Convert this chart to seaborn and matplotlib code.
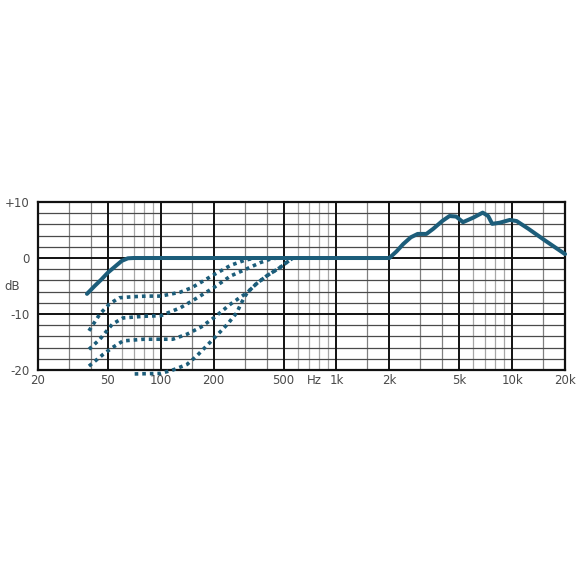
import matplotlib
matplotlib.use("Agg")
import matplotlib.pyplot as plt
import seaborn as sns
import pandas as pd

# ---- data ----
solid_f = [38, 42, 46, 50, 55, 60, 65, 70, 100, 1000, 2000, 2200, 2400, 2650, 2900, 3250,
           3550, 4000, 4400, 4800, 5250, 6000, 6800, 7300, 7700, 8500, 9700, 10600, 12400,
           15600, 20000]
solid_db = [-6.4, -5.0, -3.8, -2.6, -1.5, -0.5, -0.05, 0, 0, 0, 0, 1.2, 2.5, 3.7, 4.3, 4.3,
            5.2, 6.6, 7.5, 7.4, 6.4, 7.2, 8.1, 7.5, 6.1, 6.3, 6.8, 6.6, 5.2, 3.0, 0.7]

a_f = [39, 45, 51, 58, 70, 83, 100, 129, 150, 200, 250, 300, 345]
a_db = [-13.0, -10.0, -8.2, -7.1, -6.9, -6.8, -6.8, -6.1, -5.3, -3.0, -1.3, -0.4, 0]

b_f = [39, 45, 53, 61, 80, 100, 129, 150, 200, 250, 310, 370, 420, 460]
b_db = [-16.3, -14.5, -11.8, -10.7, -10.4, -10.3, -8.9, -7.7, -5.3, -3.2, -1.9, -0.8, -0.2, 0]

c_f = [39, 47, 53, 61, 80, 100, 117, 141, 170, 200, 250, 290, 310, 350, 400, 477, 520, 565]
c_db = [-19.3, -17.2, -16.0, -14.8, -14.5, -14.5, -14.5, -13.6, -12.3, -10.7, -8.2, -6.8,
        -6.2, -4.6, -3.2, -1.7, -0.8, 0]

d_f = [71, 100, 117, 141, 160, 200, 240, 270, 290, 310, 350, 400, 477, 520, 565]
d_db = [-20.7, -20.6, -20.0, -19.0, -17.5, -14.4, -11.8, -9.8, -7.8, -6.2, -4.6, -3.2,
        -1.7, -0.8, 0]

x_ticks = [20, 50, 100, 200, 500, 750, 1000, 2000, 5000, 10000, 20000]
x_labels = ["20", "50", "100", "200", "500", "Hz", "1k", "2k", "5k", "10k", "20k"]
y_ticks = [10, 0, -10, -20]
y_labels = ["+10", "0", "-10", "-20"]

major_f = [50, 100, 200, 500, 1000, 2000, 5000, 10000]
mid_f = [30, 40, 150, 300, 400, 1500, 3000, 4000, 15000]
light_f = [60, 70, 80, 90, 600, 700, 800, 900, 6000, 7000, 8000, 9000]
minor_db = [8, 6, 4, 2, -2, -4, -6, -8, -12, -14, -16, -18]
major_db = [10, 0, -10, -20]

# ---- figure ----
sns.set_style("white")
plt.rcParams["font.family"] = ["DejaVu Sans"]
fig = plt.figure(figsize=(5.84, 5.84), dpi=100)
ax = fig.add_axes([0.0651, 0.3664, 0.9024, 0.2877])
ax.set_xscale("log")
ax.set_xlim(20, 20000)
ax.set_ylim(-20, 10)

# grid
for f in light_f:
    ax.axvline(f, color="#a8a8a8", lw=0.9, zorder=1)
for f in mid_f:
    ax.axvline(f, color="#808080", lw=0.9, zorder=1)
for d in minor_db:
    ax.axhline(d, color="#4a4a4a", lw=0.9, zorder=1)
for f in major_f:
    ax.axvline(f, color="#111111", lw=1.4, zorder=2)
for d in major_db:
    ax.axhline(d, color="#111111", lw=1.4, zorder=2)

col = "#1c5d7a"
dot_kw = dict(color=col, lw=2.6, dashes=(1, 1.1), dash_capstyle="butt")
for fx, dy in [(a_f, a_db), (b_f, b_db), (c_f, c_db), (d_f, d_db)]:
    df = pd.DataFrame({"f": fx, "db": dy})
    sns.lineplot(data=df, x="f", y="db", ax=ax, sort=False, estimator=None,
                 zorder=4, clip_on=False, **dot_kw)

df_s = pd.DataFrame({"f": solid_f, "db": solid_db})
sns.lineplot(data=df_s, x="f", y="db", ax=ax, sort=False, estimator=None,
             color=col, lw=2.9, zorder=5, solid_capstyle="round", clip_on=False)

for s in ax.spines.values():
    s.set_color("#111111")
    s.set_linewidth(1.6)
    s.set_visible(True)

ax.set_xticks(x_ticks)
ax.set_xticklabels(x_labels)
ax.xaxis.set_minor_locator(matplotlib.ticker.NullLocator())
ax.set_yticks(y_ticks)
ax.set_yticklabels(y_labels)
ax.tick_params(axis="both", length=0, labelsize=8.5, colors="#4a4a4a")
ax.tick_params(axis="x", pad=3)
ax.tick_params(axis="y", pad=6)
ax.set_xlabel("")
ax.set_ylabel("")
ax.text(-0.035, 0.5, "dB", transform=ax.transAxes, ha="right", va="center",
        fontsize=8.5, color="#4a4a4a")

fig.savefig("out.png", dpi=100, facecolor="white")
